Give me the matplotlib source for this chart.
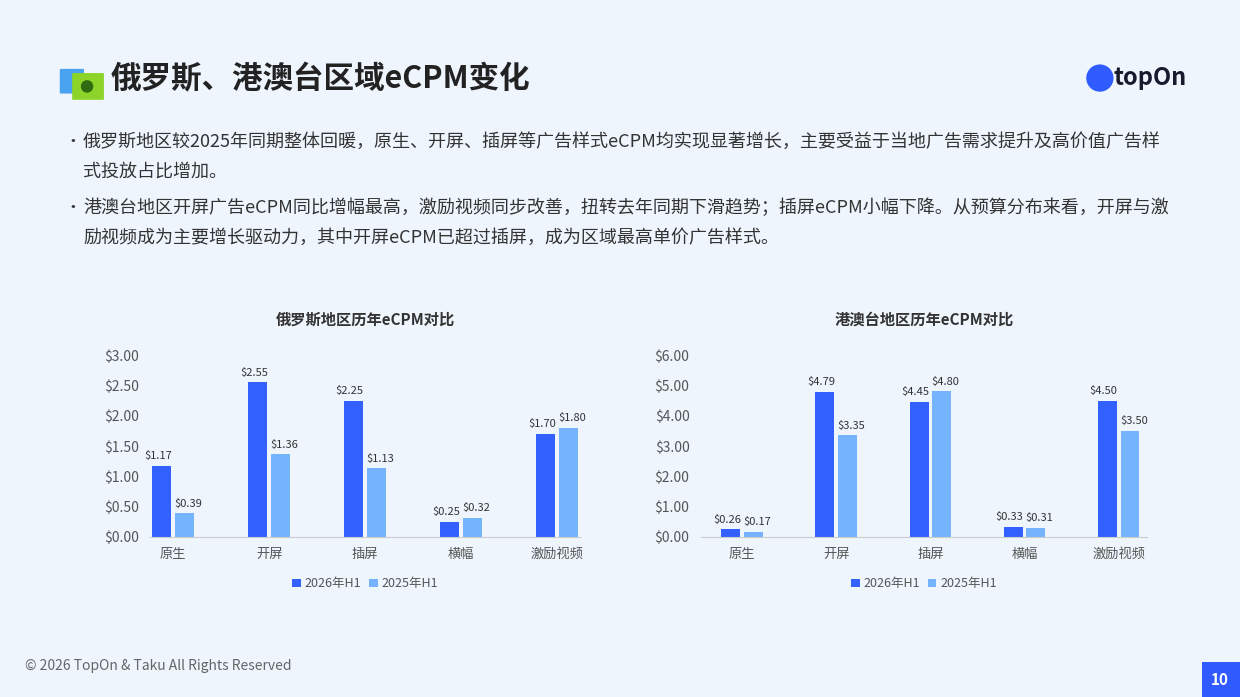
import matplotlib.pyplot as plt
from matplotlib.patches import Ellipse, FancyBboxPatch
import numpy as np

plt.rcParams['font.family'] = ['Noto Sans CJK SC', 'DejaVu Sans']

categories = ['原生', '开屏', '插屏', '横幅', '激励视频']
series_names = ['2026年H1', '2025年H1']
ru_2026 = [1.17, 2.55, 2.25, 0.25, 1.70]
ru_2025 = [0.39, 1.36, 1.13, 0.32, 1.80]
hk_2026 = [0.26, 4.79, 4.45, 0.33, 4.50]
hk_2025 = [0.17, 3.35, 4.80, 0.31, 3.50]
ru_ticks = [0, 0.5, 1.0, 1.5, 2.0, 2.5, 3.0]
hk_ticks = [0, 1, 2, 3, 4, 5, 6]

BG = '#EEF5FD'
C1 = '#3361FF'
C2 = '#75B3FF'
TXT = '#333333'

fig = plt.figure(figsize=(12.4, 6.97), dpi=100)
fig.patch.set_facecolor(BG)

# header
fig.text(0.089, 0.886, '俄罗斯、港澳台区域eCPM变化', fontsize=22, fontweight='bold',
         color='#222222', va='center')
ax_icon = fig.add_axes([0.045, 0.855, 0.04, 0.06])
ax_icon.axis('off')
ax_icon.add_patch(FancyBboxPatch((0.1, 0.2), 0.45, 0.55, boxstyle='round,pad=0.02', fc='#4AA3F0', ec='none'))
ax_icon.add_patch(FancyBboxPatch((0.35, 0.05), 0.6, 0.6, boxstyle='round,pad=0.02', fc='#8CD32A', ec='none'))
ax_icon.add_patch(Ellipse((0.63, 0.35), 0.25, 0.3, fc='#2F6B10'))
ax_icon.set_xlim(0, 1); ax_icon.set_ylim(0, 1)

fig.text(0.957, 0.888, 'topOn', fontsize=17, fontweight='bold', color='#1A1A2E',
         ha='right', va='center')
fig.patches.append(Ellipse((0.887, 0.888), 0.022, 0.022 * 1240 / 697, transform=fig.transFigure,
                           fc='#2F5BFF', ec='none'))

bullets = [
    ('俄罗斯地区较2025年同期整体回暖，原生、开屏、插屏等广告样式eCPM均实现显著增长，主要受益于当地广告需求提升及高价值广告样',
     '式投放占比增加。'),
    ('港澳台地区开屏广告eCPM同比增幅最高，激励视频同步改善，扭转去年同期下滑趋势；插屏eCPM小幅下降。从预算分布来看，开屏与激',
     '励视频成为主要增长驱动力，其中开屏eCPM已超过插屏，成为区域最高单价广告样式。'),
]
ys = [0.797, 0.702]
for (l1, l2), y in zip(bullets, ys):
    fig.text(0.052, y, '•', fontsize=12, color=TXT, va='center')
    fig.text(0.067, y, l1, fontsize=13, color=TXT, va='center')
    fig.text(0.067, y - 0.043, l2, fontsize=13, color=TXT, va='center')


def draw(rect, title, a, b, ticks, xlim):
    ax = fig.add_axes(rect)
    ax.set_facecolor('none')
    x = np.arange(len(categories))
    w = 0.2
    top = ticks[-1]
    b1 = ax.bar(x - w / 2 - 0.02, a, w, color=C1, label=series_names[0])
    b2 = ax.bar(x + w / 2 + 0.02, b, w, color=C2, label=series_names[1])
    off = top * 0.025
    for bars, vals, dx in ((b1, a, -0.04), (b2, b, 0.04)):
        for r, v in zip(bars, vals):
            ax.text(r.get_x() + r.get_width() / 2 + dx, v + off, f'${v:.2f}', ha='center',
                    va='bottom', fontsize=8, color=TXT)
    ax.set_ylim(0, top)
    ax.set_yticks(ticks)
    ax.set_yticklabels([f'${t:.2f}' for t in ticks], fontsize=10, color='#555555')
    ax.set_xticks(x)
    ax.set_xticklabels(categories, fontsize=9.5, color='#555555')
    ax.set_xlim(*xlim)
    for s in ('top', 'right', 'left'):
        ax.spines[s].set_visible(False)
    ax.spines['bottom'].set_color('#CCCCCC')
    ax.tick_params(length=0, pad=8)
    ax.set_title(title, fontsize=11, fontweight='bold', color='#333333', pad=22)
    ax.legend(loc='upper center', bbox_to_anchor=(0.5, -0.16), ncol=2, frameon=False,
              fontsize=9, handlelength=0.7, handleheight=0.7, handletextpad=0.3,
              columnspacing=0.6, labelcolor='#555555')


draw([0.121, 0.2296, 0.347, 0.261], '俄罗斯地区历年eCPM对比', ru_2026, ru_2025, ru_ticks, (-0.24, 4.24))
draw([0.565, 0.2296, 0.36, 0.261], '港澳台地区历年eCPM对比', hk_2026, hk_2025, hk_ticks, (-0.44, 4.3))

fig.text(0.02, 0.044, '© 2026 TopOn & Taku All Rights Reserved', fontsize=10, color='#666666', va='center')
fig.patches.append(FancyBboxPatch((0.969, 0.0), 0.031, 0.05, boxstyle='square,pad=0',
                                  transform=fig.transFigure, fc='#2F5BFF', ec='none'))
fig.text(0.984, 0.025, '10', fontsize=11, fontweight='bold', color='white', ha='center', va='center')

fig.savefig('out.png', dpi=100, facecolor=BG)
